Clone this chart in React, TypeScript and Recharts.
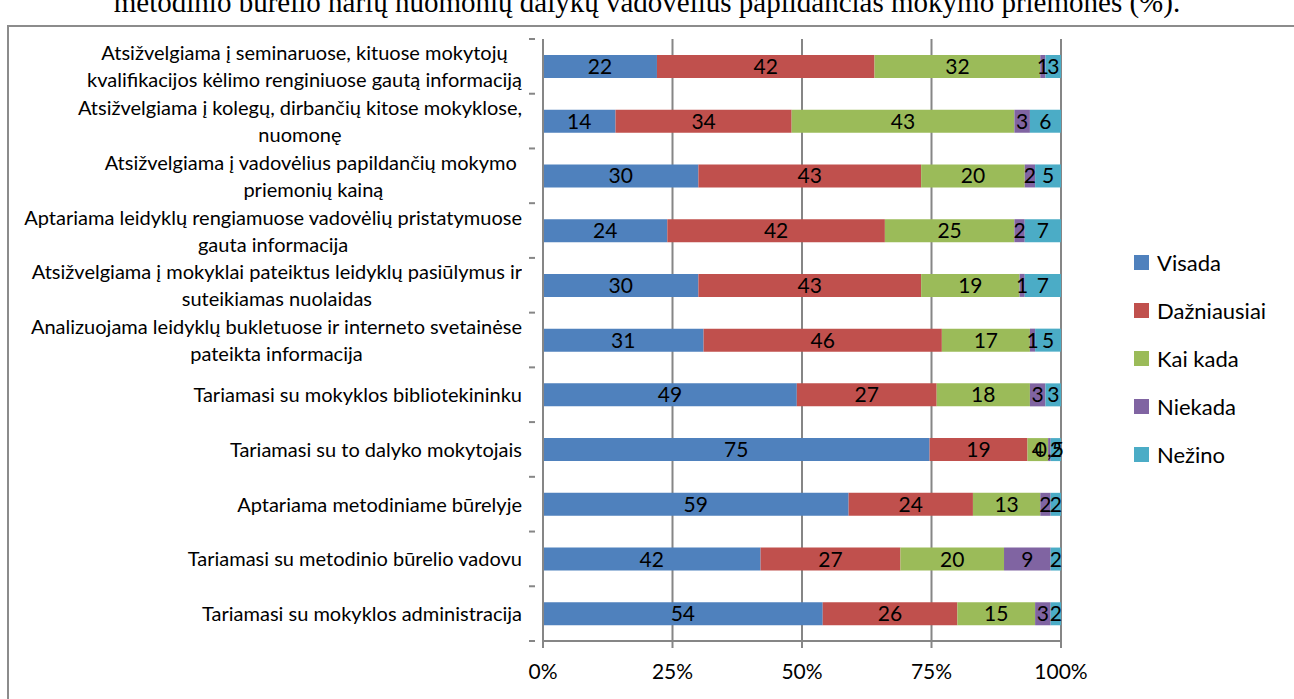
import { BarChart, Bar, XAxis, YAxis, CartesianGrid, LabelList } from 'recharts';

const categories = [
  'Atsižvelgiama į seminaruose, kituose mokytojų\nkvalifikacijos kėlimo renginiuose gautą informaciją',
  'Atsižvelgiama į kolegų, dirbančių kitose mokyklose,\nnuomonę',
  'Atsižvelgiama į vadovėlius papildančių mokymo \npriemonių kainą',
  'Aptariama leidyklų rengiamuose vadovėlių pristatymuose\ngauta informacija',
  'Atsižvelgiama į mokyklai pateiktus leidyklų pasiūlymus ir\nsuteikiamas nuolaidas',
  'Analizuojama leidyklų bukletuose ir interneto svetainėse\npateikta informacija',
  'Tariamasi su mokyklos bibliotekininku',
  'Tariamasi su to dalyko mokytojais',
  'Aptariama metodiniame būrelyje',
  'Tariamasi su metodinio būrelio vadovu',
  'Tariamasi su mokyklos administracija',
];

const visada = [22, 14, 30, 24, 30, 31, 49, 75, 59, 42, 54];
const dazniausiai = [42, 34, 43, 42, 43, 46, 27, 19, 24, 27, 26];
const kaiKada = [32, 43, 20, 25, 19, 17, 18, 4, 13, 20, 15];
const niekada = [1, 3, 2, 2, 1, 1, 3, 0.5, 2, 9, 3];
const nezino = [3, 6, 5, 7, 7, 5, 3, 2, 2, 2, 2];

const series = [
  { key: 'visada', name: 'Visada', color: '#4F81BD' },
  { key: 'dazniausiai', name: 'Dažniausiai', color: '#C0504D' },
  { key: 'kaiKada', name: 'Kai kada', color: '#9BBB59' },
  { key: 'niekada', name: 'Niekada', color: '#8064A2' },
  { key: 'nezino', name: 'Nežino', color: '#4BACC6' },
];

const xTicks = [0, 0.25, 0.5, 0.75, 1];
const xTickLabels = ['0%', '25%', '50%', '75%', '100%'];

const data = categories.map((name, i) => ({
  name,
  visada: visada[i],
  dazniausiai: dazniausiai[i],
  kaiKada: kaiKada[i],
  niekada: niekada[i],
  nezino: nezino[i],
}));

const FONT = 'Lato, "Open Sans", sans-serif';
const AXIS = '#868686';
const PLOT_TOP = 39;
const PLOT_BOTTOM = 641;
const BAND = (PLOT_BOTTOM - PLOT_TOP) / categories.length;

const fmt = (v: any) => String(v).replace('.', ',');

function CategoryTick(props: any) {
  const { x, y, payload, index } = props;
  const lines = String(payload.value).split('\n');
  return (
    <g>
      <line x1={x - 6} x2={x} y1={y - BAND / 2} y2={y - BAND / 2} stroke={AXIS} strokeWidth={2} />
      {index === categories.length - 1 && (
        <line x1={x - 6} x2={x} y1={y + BAND / 2} y2={y + BAND / 2} stroke={AXIS} strokeWidth={2} />
      )}
      <foreignObject x={x - 540} y={y - 30} width={527} height={60}>
        <div
          style={{
            display: 'flex',
            justifyContent: 'flex-end',
            alignItems: 'center',
            height: '100%',
            fontFamily: FONT,
            fontSize: 20,
            lineHeight: '27px',
            color: '#000',
          }}
        >
          <div style={{ textAlign: 'center', whiteSpace: 'pre' }}>
            {lines.map((l, k) => (
              <div key={k}>{l}</div>
            ))}
          </div>
        </div>
      </foreignObject>
    </g>
  );
}

function LegendBox() {
  return (
    <div style={{ position: 'absolute', left: 1134, top: 238, fontFamily: FONT, fontSize: 22, color: '#000' }}>
      {series.map((s) => (
        <div key={s.key} style={{ display: 'flex', alignItems: 'center', height: 48 }}>
          <span style={{ width: 15, height: 15, background: s.color, marginRight: 8, display: 'inline-block' }} />
          <span>{s.name}</span>
        </div>
      ))}
    </div>
  );
}

export default function App() {
  return (
    <div style={{ position: 'absolute', left: 0, top: 0, width: 1294, height: 699, overflow: 'hidden', background: '#fff' }}>
      <div
        style={{
          position: 'absolute',
          left: 0,
          width: 1294,
          top: -14,
          textAlign: 'center',
          fontFamily: '"Liberation Serif", serif',
          fontSize: 29,
          whiteSpace: 'nowrap',
        }}
      >
        metodinio būrelio narių nuomonių dalykų vadovėlius papildančias mokymo priemones (%).
      </div>
      <div
        style={{
          position: 'absolute',
          left: 7,
          top: 25,
          width: 1300,
          height: 700,
          borderLeft: '2px solid #8c8c8c',
          borderTop: '2px solid #8c8c8c',
        }}
      />
      <div style={{ position: 'absolute', left: 0, top: 0 }}>
        <BarChart
          width={1294}
          height={699}
          data={data}
          layout="vertical"
          stackOffset="expand"
          margin={{ top: PLOT_TOP, right: 233, bottom: 699 - PLOT_BOTTOM - 40, left: 8 }}
        >
          <CartesianGrid horizontal={false} vertical stroke={AXIS} strokeWidth={2} />
          <XAxis
            type="number"
            domain={[0, 1]}
            ticks={xTicks}
            height={40}
            tickFormatter={(v: number) => xTickLabels[xTicks.indexOf(v)]}
            stroke={AXIS}
            strokeWidth={2}
            tickSize={7}
            tick={{ fill: '#000', fontFamily: FONT, fontSize: 21 }}
            tickMargin={16}
          />
          <YAxis
            type="category"
            dataKey="name"
            width={535}
            stroke={AXIS}
            strokeWidth={2}
            tickLine={false}
            tick={<CategoryTick />}
            interval={0}
          />
          {series.map((s) => (
            <Bar key={s.key} dataKey={s.key} name={s.name} stackId="a" fill={s.color} barSize={23} isAnimationActive={false}>
              <LabelList
                dataKey={s.key}
                position="center"
                formatter={fmt}
                style={{ fill: '#000', fontFamily: FONT, fontSize: 21 }}
              />
            </Bar>
          ))}
        </BarChart>
      </div>
      <LegendBox />
    </div>
  );
}
